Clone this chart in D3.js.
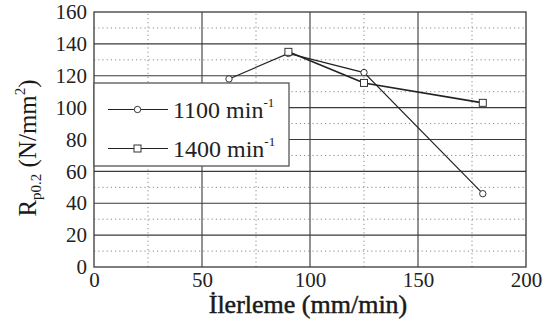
<!DOCTYPE html>
<html>
<head>
<meta charset="utf-8">
<script src="https://cdn.jsdelivr.net/npm/d3@7"></script>
<style>
  html, body { margin: 0; padding: 0; background: #fff; }
  svg text, svg tspan { font-family: "Liberation Serif", "Times New Roman", serif !important; }
</style>
</head>
<body>
<svg id="plot" width="548" height="324"></svg>
<script>
// Feed rate (mm/min) vs. yield strength Rp0.2 (N/mm²) at two spindle speeds
const feed1100 = [62.5, 90, 125, 180];
const rp1100   = [118, 134, 122, 46];
const feed1400 = [90, 125, 180];
const rp1400   = [135, 115.5, 103];
const seriesLabels = ["1100 min", "1400 min"];
const xTicks = [0, 50, 100, 150, 200];
const yTicks = [0, 20, 40, 60, 80, 100, 120, 140, 160];

const svg = d3.select("#plot");
const m = { left: 94, right: 22, top: 12, bottom: 57 };
const W = 548, H = 324;

const x = d3.scaleLinear().domain([0, 200]).range([m.left, W - m.right]);
const y = d3.scaleLinear().domain([0, 160]).range([H - m.bottom, m.top]);

const g = svg.append("g");

// minor dotted grid
g.append("g").selectAll("line").data(d3.range(25, 200, 50)).join("line")
  .attr("x1", d => x(d)).attr("x2", d => x(d))
  .attr("y1", y(0)).attr("y2", y(160))
  .attr("stroke", "#888").attr("stroke-width", 1).attr("stroke-dasharray", "1.2,3");
g.append("g").selectAll("line").data(d3.range(10, 160, 20)).join("line")
  .attr("y1", d => y(d)).attr("y2", d => y(d))
  .attr("x1", x(0)).attr("x2", x(200))
  .attr("stroke", "#888").attr("stroke-width", 1).attr("stroke-dasharray", "1.2,3");

// major solid grid
g.append("g").selectAll("line").data(xTicks.slice(1, -1)).join("line")
  .attr("x1", d => x(d)).attr("x2", d => x(d))
  .attr("y1", y(0)).attr("y2", y(160))
  .attr("stroke", "#3a3a3a").attr("stroke-width", 1.1);
g.append("g").selectAll("line").data(yTicks.slice(1, -1)).join("line")
  .attr("y1", d => y(d)).attr("y2", d => y(d))
  .attr("x1", x(0)).attr("x2", x(200))
  .attr("stroke", "#3a3a3a").attr("stroke-width", 1.1);

// frame
g.append("rect")
  .attr("x", x(0)).attr("y", y(160))
  .attr("width", x(200) - x(0)).attr("height", y(0) - y(160))
  .attr("fill", "none").attr("stroke", "#3a3a3a").attr("stroke-width", 1.3);

// tick labels, via d3 axes with the tick lines and domain removed
const xAxis = d3.axisBottom(x).tickValues(xTicks).tickSize(0).tickPadding(5).tickFormat(d3.format("d"));
const yAxis = d3.axisLeft(y).tickValues(yTicks).tickSize(0).tickPadding(7).tickFormat(d3.format("d"));
const gx = svg.append("g").attr("transform", `translate(0,${y(0)})`).call(xAxis);
const gy = svg.append("g").attr("transform", `translate(${x(0)},0)`).call(yAxis);
[gx, gy].forEach(a => {
  a.select(".domain").remove();
  a.attr("font-family", null).attr("font-size", 21);
  a.selectAll("text").attr("fill", "#222");
});

// series lines and markers
const line = d3.line().x(d => x(d[0])).y(d => y(d[1]));
const pts1100 = feed1100.map((f, i) => [f, rp1100[i]]);
const pts1400 = feed1400.map((f, i) => [f, rp1400[i]]);

svg.append("path").datum(pts1100).attr("d", line)
  .attr("fill", "none").attr("stroke", "#222").attr("stroke-width", 1.2);
svg.append("path").datum(pts1400).attr("d", line)
  .attr("fill", "none").attr("stroke", "#222").attr("stroke-width", 1.6);

svg.append("g").selectAll("circle").data(pts1100).join("circle")
  .attr("cx", d => x(d[0])).attr("cy", d => y(d[1])).attr("r", 3.2)
  .attr("fill", "#fff").attr("stroke", "#333").attr("stroke-width", 1);
svg.append("g").selectAll("rect").data(pts1400).join("rect")
  .attr("x", d => x(d[0]) - 3.5).attr("y", d => y(d[1]) - 3.5)
  .attr("width", 7).attr("height", 7)
  .attr("fill", "#fff").attr("stroke", "#333").attr("stroke-width", 1);

// legend
const lg = svg.append("g");
lg.append("rect").attr("x", 94).attr("y", 83).attr("width", 195).attr("height", 83)
  .attr("fill", "#fff").attr("stroke", "#555").attr("stroke-width", 1.3);
const rows = [109.5, 148.5];
rows.forEach((ry, i) => {
  lg.append("line").attr("x1", 108).attr("x2", 168).attr("y1", ry).attr("y2", ry)
    .attr("stroke", "#222").attr("stroke-width", 1.2);
  if (i === 0) {
    lg.append("circle").attr("cx", 137.5).attr("cy", ry).attr("r", 3.2)
      .attr("fill", "#fff").attr("stroke", "#333");
  } else {
    lg.append("rect").attr("x", 134).attr("y", ry - 3.5).attr("width", 7).attr("height", 7)
      .attr("fill", "#fff").attr("stroke", "#333");
  }
  const t = lg.append("text").attr("x", 173).attr("y", ry + 8)
    .attr("font-size", 24).attr("fill", "#222");
  t.append("tspan").text(seriesLabels[i]);
  t.append("tspan").attr("dy", -11).attr("font-size", 13).text("-1");
});

// axis titles
svg.append("text").attr("x", 308).attr("y", 313).attr("text-anchor", "middle")
  .attr("font-size", 26)
  .attr("fill", "#1a1a1a").attr("stroke", "#1a1a1a").attr("stroke-width", 0.5)
  .text("İlerleme (mm/min)");

const yt = svg.append("text").attr("transform", "translate(36,148) rotate(-90)")
  .attr("text-anchor", "middle").attr("font-size", 25).attr("fill", "#1a1a1a");
yt.append("tspan").text("R");
yt.append("tspan").attr("dy", 5).attr("font-size", 15).text("p0.2");
yt.append("tspan").attr("dy", -5).text(" (N/mm");
yt.append("tspan").attr("dy", -11).attr("font-size", 15).text("2");
yt.append("tspan").attr("dy", 11).text(")");
</script>
</body>
</html>
